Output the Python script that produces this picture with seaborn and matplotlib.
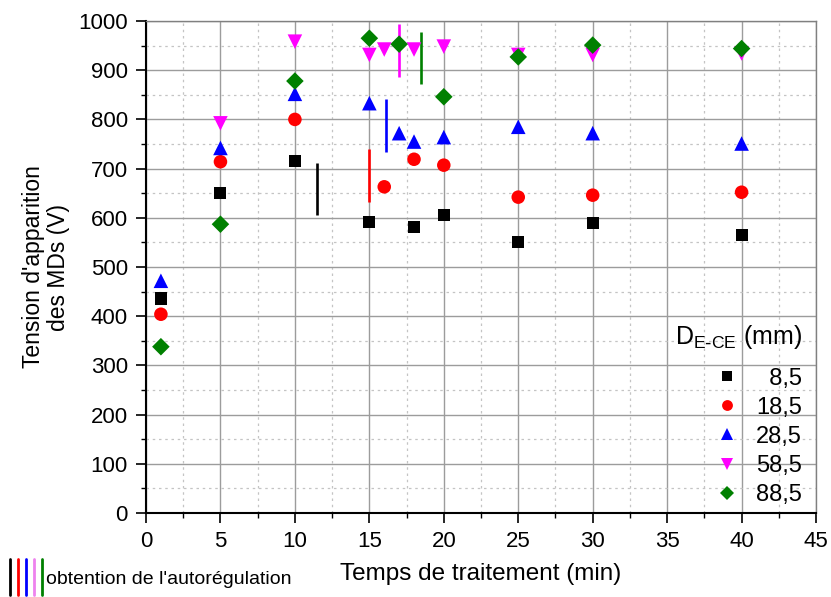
import numpy as np
import pandas as pd
import matplotlib
matplotlib.use("Agg")
import matplotlib.pyplot as plt
import seaborn as sns
from matplotlib.lines import Line2D
from matplotlib.ticker import MultipleLocator

# --- data ---
t_85 = [1, 5, 10, 15, 18, 20, 25, 30, 40]
v_85 = [436, 650, 715, 592, 582, 606, 551, 590, 566]

t_185 = [1, 5, 10, 16, 18, 20, 25, 30, 40]
v_185 = [404, 714, 800, 663, 719, 707, 642, 646, 652]

t_285 = [1, 5, 10, 15, 17, 18, 20, 25, 30, 40]
v_285 = [472, 742, 852, 833, 772, 755, 764, 785, 772, 751]

t_585 = [5, 10, 15, 16, 18, 20, 25, 30, 40]
v_585 = [792, 958, 931, 942, 942, 948, 931, 931, 934]

t_885 = [1, 5, 10, 15, 17, 20, 25, 30, 40]
v_885 = [338, 587, 878, 965, 953, 846, 927, 951, 944]

distances = ["8,5", "18,5", "28,5", "58,5", "88,5"]
colors = ["black", "red", "blue", "magenta", "green"]
markers = ["s", "o", "^", "v", "D"]
sizes = [75, 95, 110, 110, 80]

# autoregulation markers: x position, low and high voltage
auto_t = [11.5, 15.0, 16.1, 17.0, 18.5]
auto_lo = [606, 633, 734, 886, 871]
auto_hi = [712, 739, 841, 994, 978]

series = [(t_85, v_85), (t_185, v_185), (t_285, v_285), (t_585, v_585), (t_885, v_885)]
frames = []
for d, (t, v) in zip(distances, series):
    frames.append(pd.DataFrame({"t": t, "V": v, "D": d}))
df = pd.concat(frames, ignore_index=True)

sns.set_style("white")
plt.rcParams['font.family'] = ['Liberation Sans', 'DejaVu Sans']
plt.rcParams['mathtext.default'] = 'regular'
plt.rcParams['text.color'] = 'black'
plt.rcParams['axes.labelcolor'] = 'black'
plt.rcParams['xtick.color'] = 'black'
plt.rcParams['ytick.color'] = 'black'

fig = plt.figure(figsize=(8.31, 5.97), dpi=100)
ax = fig.add_axes([0.1757, 0.1407, 0.8063, 0.8241])

# grid
ax.xaxis.set_major_locator(MultipleLocator(5))
ax.xaxis.set_minor_locator(MultipleLocator(2.5))
ax.yaxis.set_major_locator(MultipleLocator(100))
ax.yaxis.set_minor_locator(MultipleLocator(50))
ax.grid(which='major', color='#9c9c9c', linewidth=1.0, linestyle='-')
ax.grid(which='minor', color='#c4c4c4', linewidth=0.9, linestyle=(0, (2, 3)))
ax.set_axisbelow(True)

# autoregulation bars
for x, lo, hi, c in zip(auto_t, auto_lo, auto_hi, colors):
    ax.vlines(x, lo, hi, color=c, linewidth=1.9)

for d, c, m, s in zip(distances, colors, markers, sizes):
    sub = df[df["D"] == d]
    sns.scatterplot(data=sub, x="t", y="V", color=c, marker=m, s=s,
                    edgecolor='none', linewidth=0, ax=ax, zorder=3)

ax.set_xlim(0, 45)
ax.set_ylim(0, 1000)
ax.set_xlabel("Temps de traitement (min)", fontsize=17.5, labelpad=8)
ax.set_ylabel("Tension d'apparition\ndes MDs (V)", fontsize=16.5, labelpad=6, linespacing=1.1)
ax.tick_params(axis='both', which='major', labelsize=16, direction='out', length=7, width=1.2,
               color='black', labelcolor='black', pad=6, bottom=True, left=True)
ax.tick_params(axis='both', which='minor', direction='out', length=3.5, width=1.0, color='black',
               bottom=True, left=True)

for side in ['left', 'bottom']:
    ax.spines[side].set_color('black')
    ax.spines[side].set_linewidth(1.5)
for side in ['top', 'right']:
    ax.spines[side].set_color('#808080')
    ax.spines[side].set_linewidth(1.0)

# legend
handles = [Line2D([], [], linestyle='none', marker=m, color=c, markersize=np.sqrt(s) * 0.8,
                  markeredgewidth=0) for c, m, s in zip(colors, markers, sizes)]
labels = ["  8,5", "18,5", "28,5", "58,5", "88,5"]
leg = ax.legend(handles, labels, title=r"D$_{E\text{-}CE}$ (mm)", loc='lower right',
                frameon=False, fontsize=17, title_fontsize=18, handletextpad=0.5,
                handlelength=1.5, labelspacing=0.3, borderaxespad=0.1, borderpad=0.2,
                bbox_to_anchor=(0.99, 0.0))
leg._legend_box.align = "right"
leg._legend_box.sep = 12

# bottom note
for i, c in enumerate(["black", "red", "blue", "violet", "green"]):
    x = (10 + i * 8) / 831
    fig.add_artist(Line2D([x, x], [1 - 559 / 597, 1 - 595 / 597], color=c, linewidth=2))
fig.text(46 / 831, 1 - 579 / 597, "obtention de l'autorégulation", fontsize=14, va='center', ha='left')

fig.savefig("out.png", dpi=100)
